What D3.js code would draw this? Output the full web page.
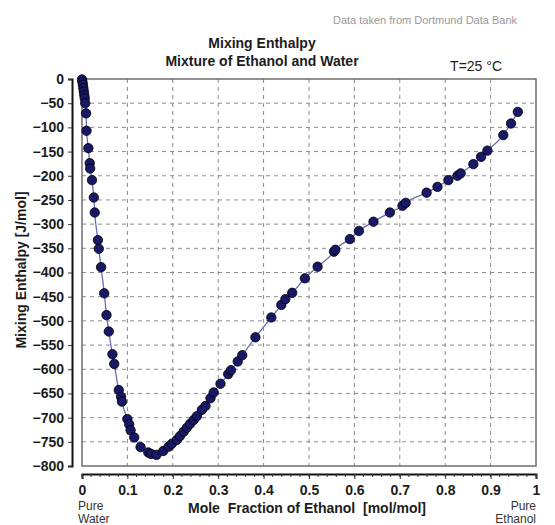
<!DOCTYPE html>
<html>
<head>
<meta charset="utf-8">
<script src="https://cdn.jsdelivr.net/npm/d3@7"></script>
<style>
  html, body { margin: 0; padding: 0; background: #fff; }
  svg { display: block; }
  text { font-family: "Liberation Sans", Arial, sans-serif; }
</style>
</head>
<body>
<svg id="chart" width="555" height="525"></svg>
<script>
// Mole fraction of ethanol (x) and mixing enthalpy (J/mol)
const moleFraction = [0.000,0.001,0.002,0.003,0.004,0.005,0.006,0.007,0.009,0.010,0.014,0.017,0.018,0.022,0.026,0.028,0.035,0.037,0.042,0.049,0.054,0.059,0.067,0.071,0.081,0.086,0.088,0.100,0.104,0.107,0.115,0.129,0.146,0.152,0.164,0.179,0.191,0.198,0.209,0.216,0.224,0.231,0.238,0.246,0.253,0.264,0.272,0.283,0.290,0.305,0.322,0.328,0.343,0.353,0.382,0.417,0.439,0.448,0.463,0.491,0.519,0.555,0.558,0.590,0.610,0.642,0.678,0.706,0.713,0.759,0.783,0.807,0.827,0.834,0.862,0.879,0.893,0.928,0.945,0.960];
const mixingEnthalpy = [-1,-6,-12,-19,-26,-33,-40,-50,-71,-107,-143,-174,-185,-209,-245,-276,-333,-351,-389,-443,-488,-522,-569,-589,-643,-657,-667,-703,-714,-726,-741,-761,-772,-775,-777,-769,-760,-754,-746,-738,-729,-721,-713,-705,-697,-684,-676,-660,-648,-630,-610,-602,-584,-571,-534,-493,-467,-455,-442,-412,-388,-357,-353,-331,-314,-295,-276,-262,-256,-235,-223,-209,-200,-195,-176,-161,-148,-116,-92,-68];
const xTickValues = [0,0.1,0.2,0.3,0.4,0.5,0.6,0.7,0.8,0.9,1];
const xTickLabels = ["0","0.1","0.2","0.3","0.4","0.5","0.6","0.7","0.8","0.9","1"];
const yTickValues = [0,-50,-100,-150,-200,-250,-300,-350,-400,-450,-500,-550,-600,-650,-700,-750,-800];

const svg = d3.select("#chart");
const L = 82, R = 536, T = 79, B = 466;
const x = d3.scaleLinear().domain([0, 1]).range([L, R]);
const y = d3.scaleLinear().domain([0, -800]).range([T, B]);
const ink = "#1c1c1c";

// grid
const grid = svg.append("g");
grid.selectAll("line.v").data(xTickValues.filter(v => v > 0 && v < 1)).join("line")
  .attr("x1", d => x(d)).attr("x2", d => x(d)).attr("y1", T).attr("y2", B)
  .attr("stroke", "#8a8a8a").attr("stroke-width", 1).attr("stroke-dasharray", "4,4");
grid.selectAll("line.h").data(yTickValues.filter(v => v < 0 && v > -800)).join("line")
  .attr("x1", L).attr("x2", R).attr("y1", d => y(d)).attr("y2", d => y(d))
  .attr("stroke", "#8a8a8a").attr("stroke-width", 1).attr("stroke-dasharray", "4,4");

// frame
svg.append("rect").attr("x", L).attr("y", T).attr("width", R - L).attr("height", B - T)
  .attr("fill", "none").attr("stroke", "#6e6e6e").attr("stroke-width", 1.5);

// y axis (detached)
const yAxis = d3.axisLeft(y).tickValues(yTickValues).tickSize(4).tickPadding(4).tickFormat(d3.format("d"));
const gy = svg.append("g").attr("transform", "translate(72,0)").call(yAxis);
gy.select(".domain").attr("stroke", "#111").attr("stroke-width", 2);
gy.selectAll(".tick line").attr("stroke", "#333");
gy.selectAll(".tick text").attr("fill", ink).attr("font-size", 14).attr("font-weight", "bold")
  .attr("font-family", "Liberation Sans, Arial, sans-serif");

// x axis (detached)
const xAxis = d3.axisBottom(x).tickValues(xTickValues).tickSize(5).tickPadding(6)
  .tickFormat((d, i) => xTickLabels[i]);
const gx = svg.append("g").attr("transform", "translate(0,474)").call(xAxis);
gx.select(".domain").attr("stroke", "#111").attr("stroke-width", 2);
gx.selectAll(".tick line").attr("stroke", "#333");
gx.selectAll(".tick text").attr("fill", ink).attr("font-size", 14).attr("font-weight", "bold")
  .attr("font-family", "Liberation Sans, Arial, sans-serif");
// minor ticks
gx.selectAll("line.minor").data(d3.range(0, 51).map(i => i * 0.02)).join("line")
  .attr("class", "minor")
  .attr("x1", d => x(d)).attr("x2", d => x(d)).attr("y1", 0).attr("y2", 3)
  .attr("stroke", "#333").attr("stroke-width", 1);

// data
const pts = moleFraction.map((v, i) => [v, mixingEnthalpy[i]]);
svg.append("path").datum(pts)
  .attr("d", d3.line().x(d => x(d[0])).y(d => y(d[1])).curve(d3.curveMonotoneX))
  .attr("fill", "none").attr("stroke", "#6b6bb5").attr("stroke-width", 1.3);
svg.append("g").selectAll("circle").data(pts).join("circle")
  .attr("cx", d => x(d[0])).attr("cy", d => y(d[1])).attr("r", 4.7)
  .attr("fill", "#181868").attr("stroke", "#000").attr("stroke-width", 0.8);

// texts
svg.append("text").attr("x", 517).attr("y", 24).attr("text-anchor", "end")
  .attr("font-size", 11).attr("fill", "#999").text("Data taken from Dortmund Data Bank");
svg.append("text").attr("x", 262).attr("y", 48).attr("text-anchor", "middle")
  .attr("font-size", 14).attr("font-weight", "bold").attr("fill", ink).text("Mixing Enthalpy");
svg.append("text").attr("x", 262).attr("y", 66).attr("text-anchor", "middle")
  .attr("font-size", 14).attr("font-weight", "bold").attr("fill", ink).text("Mixture of Ethanol and Water");
svg.append("text").attr("x", 502).attr("y", 71).attr("text-anchor", "end")
  .attr("font-size", 14).attr("fill", ink).text("T=25 °C");
svg.append("text").attr("x", 307).attr("y", 513).attr("text-anchor", "middle")
  .attr("font-size", 14).attr("font-weight", "bold").attr("fill", ink)
  .attr("xml:space", "preserve").style("white-space", "pre")
  .text("Mole  Fraction of Ethanol  [mol/mol]");
svg.append("text").attr("x", 78).attr("y", 510).attr("font-size", 12).attr("fill", "#333").text("Pure");
svg.append("text").attr("x", 78).attr("y", 523).attr("font-size", 12).attr("fill", "#333").text("Water");
svg.append("text").attr("x", 536).attr("y", 510).attr("text-anchor", "end").attr("font-size", 12).attr("fill", "#333").text("Pure");
svg.append("text").attr("x", 536).attr("y", 523).attr("text-anchor", "end").attr("font-size", 12).attr("fill", "#333").text("Ethanol");
svg.append("text").attr("transform", "translate(26,270) rotate(-90)").attr("text-anchor", "middle")
  .attr("font-size", 14).attr("font-weight", "bold").attr("fill", ink).text("Mixing Enthalpy [J/mol]");
</script>
</body>
</html>
